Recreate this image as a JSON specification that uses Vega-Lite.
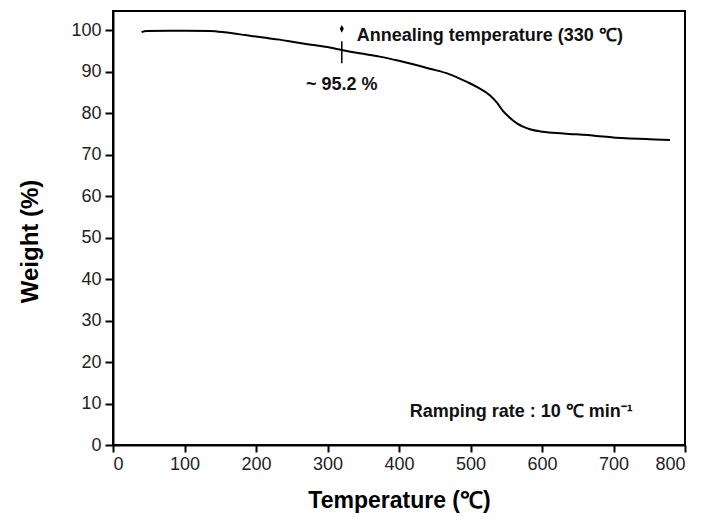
{
  "$schema": "https://vega.github.io/schema/vega-lite/v6.json",
  "width": 572,
  "height": 434,
  "autosize": {"type": "none"},
  "padding": {"left": 113, "top": 11, "right": 20, "bottom": 80},
  "background": "white",
  "config": {
    "view": {"stroke": "black", "strokeWidth": 2},
    "font": "Liberation Sans",
    "axis": {
      "domainColor": "black",
      "domainWidth": 2,
      "tickColor": "black",
      "tickWidth": 2,
      "grid": false,
      "labelFont": "Liberation Sans",
      "labelFontSize": 18,
      "labelColor": "#222",
      "titleFont": "Liberation Sans",
      "titleFontWeight": "bold",
      "titleColor": "black"
    }
  },
  "datasets": {
    "curve": [
      {"T": 40, "W": 99.5}, {"T": 47, "W": 99.8}, {"T": 80, "W": 99.85}, {"T": 100, "W": 99.85},
      {"T": 136, "W": 99.8}, {"T": 159, "W": 99.4}, {"T": 185, "W": 98.8}, {"T": 210, "W": 98.2},
      {"T": 233, "W": 97.7}, {"T": 257, "W": 97.0}, {"T": 280, "W": 96.4}, {"T": 303, "W": 95.8},
      {"T": 320, "W": 95.2}, {"T": 345, "W": 94.4}, {"T": 373, "W": 93.6}, {"T": 400, "W": 92.6},
      {"T": 443, "W": 90.7}, {"T": 470, "W": 89.4}, {"T": 495, "W": 87.5}, {"T": 510, "W": 86.2},
      {"T": 527, "W": 84.3}, {"T": 537, "W": 82.5}, {"T": 545, "W": 80.6}, {"T": 555, "W": 78.9},
      {"T": 565, "W": 77.5}, {"T": 575, "W": 76.6}, {"T": 583, "W": 76.1}, {"T": 601, "W": 75.5},
      {"T": 630, "W": 75.1}, {"T": 676, "W": 74.5}, {"T": 700, "W": 74.1}, {"T": 723, "W": 73.9},
      {"T": 750, "W": 73.7}, {"T": 779, "W": 73.5}
    ],
    "marker": [{"T": 320, "W1": 92.0, "W2": 97.3, "Wd": 100.3}],
    "leftLabels": [
      {"T": 341, "W": 98.6, "text": "Annealing temperature (330 ℃)"},
      {"T": 415, "W": 8.0, "text": "Ramping rate : 10 ℃ min⁻¹"}
    ],
    "centerLabels": [
      {"T": 320, "W": 86.7, "text": "~ 95.2 %"}
    ]
  },
  "layer": [
    {
      "data": {"name": "curve"},
      "mark": {"type": "line", "color": "black", "strokeWidth": 2, "interpolate": "monotone"},
      "encoding": {
        "x": {
          "field": "T", "type": "quantitative",
          "scale": {"domain": [0, 800], "nice": false},
          "axis": {
            "title": "Temperature (℃)",
            "titleFontSize": 23,
            "values": [0, 50, 100, 150, 200, 250, 300, 350, 400, 450, 500, 550, 600, 650, 700, 750, 800],
            "labelExpr": "datum.value % 100 === 0 ? datum.label : ''",
            "tickSize": {"condition": {"test": "datum.value % 100 !== 0", "value": 4}, "value": 7},
            "labelPadding": 3,
            "titleX": 286, "titleY": 55, "titleBaseline": "middle", "titleAlign": "center"
          }
        },
        "y": {
          "field": "W", "type": "quantitative",
          "scale": {"domain": [0, 104.6], "nice": false},
          "axis": {
            "title": "Weight (%)",
            "titleFontSize": 24,
            "values": [0, 5, 10, 15, 20, 25, 30, 35, 40, 45, 50, 55, 60, 65, 70, 75, 80, 85, 90, 95, 100],
            "labelExpr": "datum.value % 10 === 0 ? datum.label : ''",
            "tickSize": {"condition": {"test": "datum.value % 10 !== 0", "value": 4}, "value": 8},
            "labelPadding": 4,
            "titleX": -83, "titleY": 230, "titleBaseline": "middle", "titleAlign": "center", "titleAngle": -90
          }
        }
      }
    },
    {
      "data": {"name": "marker"},
      "mark": {"type": "rule", "color": "black", "strokeWidth": 1.5},
      "encoding": {
        "x": {"field": "T", "type": "quantitative"},
        "y": {"field": "W1", "type": "quantitative"},
        "y2": {"field": "W2"}
      }
    },
    {
      "data": {"name": "marker"},
      "mark": {"type": "point", "shape": "M0,-1.2L0.65,0L0,1.2L-0.65,0Z", "filled": true, "color": "black", "size": 40, "opacity": 1},
      "encoding": {
        "x": {"field": "T", "type": "quantitative"},
        "y": {"field": "Wd", "type": "quantitative"}
      }
    },
    {
      "data": {"name": "leftLabels"},
      "mark": {"type": "text", "fontWeight": "bold", "color": "#111", "baseline": "middle", "align": "left", "fontSize": 18, "font": "Liberation Sans"},
      "encoding": {
        "x": {"field": "T", "type": "quantitative"},
        "y": {"field": "W", "type": "quantitative"},
        "text": {"field": "text"}
      }
    },
    {
      "data": {"name": "centerLabels"},
      "mark": {"type": "text", "fontWeight": "bold", "color": "#111", "baseline": "middle", "align": "center", "fontSize": 18, "font": "Liberation Sans"},
      "encoding": {
        "x": {"field": "T", "type": "quantitative"},
        "y": {"field": "W", "type": "quantitative"},
        "text": {"field": "text"}
      }
    }
  ]
}
